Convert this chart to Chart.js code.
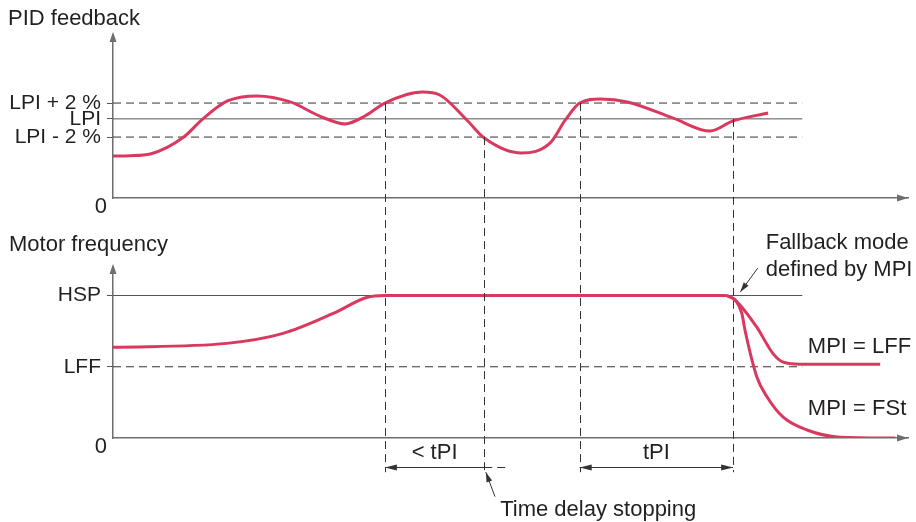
<!DOCTYPE html>
<html>
<head>
<meta charset="utf-8">
<title>PID feedback / Motor frequency</title>
<script src="https://cdn.jsdelivr.net/npm/chart.js@4.4.1/dist/chart.umd.min.js"></script>
<style>
  body { margin: 0; background: #fff; }
  #wrap { position: relative; width: 916px; height: 522px; }
  #wrap canvas { position: absolute; left: 0; top: 0; }
</style>
</head>
<body>
<div id="wrap">
  <canvas id="pidChart" width="916" height="522"></canvas>
  <canvas id="motorChart" width="916" height="522"></canvas>
</div>
<script>
// time axis, arbitrary units (0 = vertical axis, 100 = arrow tip)
const timeMax = 100;
const lineEnd = 86.7;

// PID feedback panel
const pidTicks = [38.5, 50, 60];
const pidTickLabels = ["LPI - 2 %", "LPI", "LPI + 2 %"];
const pidTime  = [0, 2.1, 4.7, 8.9, 11.3, 14.4, 18.1, 22.3, 26, 29.2, 31.7, 34.2, 38.9, 41.1, 44.5, 46.7, 51.4, 55, 56.9, 58.7, 61.3, 64.7, 70.4, 75.1, 78, 82.4];
const pidValue = [26.5, 26.7, 27.8, 38.5, 50, 61.3, 64.5, 60.7, 51.8, 46.8, 51.8, 60, 67, 65.1, 49.3, 37.9, 28.4, 34.8, 49.3, 60, 62.6, 60.7, 50.6, 42.3, 48.7, 53.7];

// Motor frequency panel
const freqTicks = [25, 50];
const freqTickLabels = ["LFF", "HSP"];
const motorTime  = [0, 14.3, 21.4, 27.7, 31.9, 34.2, 77.2];
const motorValue = [31.8, 33.2, 36.7, 43.7, 49.3, 50, 50];
const lffTime  = [77.2, 78.3, 81, 83, 84.3, 86.4, 96.5];
const lffValue = [50, 48.3, 38.8, 29.7, 26.6, 25.9, 25.9];
const fstTime  = [77.2, 78.3, 79.1, 79.5, 81, 82.3, 84.3, 87.3, 91.4, 98.4];
const fstValue = [50, 48.3, 43.7, 37.8, 21.3, 14.3, 7.3, 2.8, 0.3, 0];

// vertical markers: time, PID level where they start; all end at markTo (frequency units)
const markTime = [34.2, 46.7, 58.7, 78.0];
const markFrom = [60, 38.5, 60, 50];
const markTo = -12;

const RED = "rgb(218,56,94)";
const AXIS = "#6d6e71";
const REF = "#555";
const DASH = "#333";
const TEXT = "#231f20";
const FONT = '22px "Liberation Sans", Arial, sans-serif';

function pts(xs, ys) {
  return xs.map((t, i) => ({ x: t, y: ys[i] }));
}

function curve(xs, ys) {
  return { data: pts(xs, ys), borderColor: RED, borderWidth: 3, pointRadius: 0, cubicInterpolationMode: "monotone", fill: false };
}

function refLine(level, dashed) {
  return { data: [{ x: 0, y: level }, { x: lineEnd, y: level }], borderColor: dashed ? DASH : REF, borderWidth: 1, borderDash: dashed ? [8, 5] : [], pointRadius: 0, fill: false };
}

function scalesFor(ticks, labels, yMin, yMax) {
  return {
    x: {
      type: "linear", min: 0, max: timeMax,
      ticks: { display: false },
      grid: { display: false, drawTicks: false },
      border: { display: true, color: AXIS, width: 1.5 },
      afterFit: s => { s.height = 0; }
    },
    y: {
      type: "linear", min: yMin, max: yMax,
      afterFit: s => { s.width = 113; },
      afterBuildTicks: s => { s.ticks = ticks.map(v => ({ value: v })); },
      ticks: {
        autoSkip: false, padding: 6, color: TEXT,
        font: { family: "'Liberation Sans', Arial, sans-serif", size: 21 },
        callback: v => labels[ticks.indexOf(v)]
      },
      grid: { drawOnChartArea: false, drawTicks: true, tickLength: 6, tickColor: REF, tickWidth: 1 },
      border: { display: true, color: AXIS, width: 1.5 }
    }
  };
}

function arrowHead(ctx, x, y, angle, len, half) {
  ctx.save();
  ctx.translate(x, y);
  ctx.rotate(angle);
  ctx.beginPath();
  ctx.moveTo(0, 0);
  ctx.lineTo(-len, -half);
  ctx.lineTo(-len, half);
  ctx.closePath();
  ctx.fill();
  ctx.restore();
}

function axisArrows(chart) {
  const { ctx, scales: { x, y } } = chart;
  const x0 = x.getPixelForValue(0), y0 = y.getPixelForValue(0);
  ctx.fillStyle = AXIS;
  arrowHead(ctx, x0, chart.chartArea.top - 3, -Math.PI / 2, 10, 3.5);
  arrowHead(ctx, x.getPixelForValue(timeMax), y0, 0, 11, 3.5);
  return { x0, y0 };
}

const pidDecor = {
  id: "pidDecor",
  afterDraw(chart) {
    const ctx = chart.ctx;
    ctx.save();
    const { x0, y0 } = axisArrows(chart);
    ctx.fillStyle = TEXT;
    ctx.font = FONT;
    ctx.textBaseline = "middle";
    ctx.textAlign = "left";
    ctx.fillText("PID feedback", 8, 19);
    ctx.textAlign = "right";
    ctx.fillText("0", x0 - 6, y0 + 9);
    ctx.restore();
  }
};

const pidChart = new Chart(document.getElementById("pidChart"), {
  type: "line",
  data: {
    datasets: [
      curve(pidTime, pidValue),
      refLine(pidTicks[1], false),
      refLine(pidTicks[2], true),
      refLine(pidTicks[0], true)
    ]
  },
  options: {
    responsive: false,
    animation: false,
    events: [],
    layout: { padding: { top: 35, bottom: 522 - 198, left: 0, right: 8 } },
    scales: scalesFor(pidTicks, pidTickLabels, 0, 103),
    plugins: { legend: { display: false }, tooltip: { enabled: false } }
  },
  plugins: [pidDecor]
});

const motorDecor = {
  id: "motorDecor",
  afterDraw(chart) {
    const ctx = chart.ctx;
    const { x, y } = chart.scales;
    const py = pidChart.scales.y;
    ctx.save();
    const { x0, y0 } = axisArrows(chart);

    // vertical dashed markers through both panels
    ctx.strokeStyle = DASH;
    ctx.lineWidth = 1;
    ctx.setLineDash([8, 5]);
    markTime.forEach((t, i) => {
      const px = Math.round(x.getPixelForValue(t)) + 0.5;
      ctx.beginPath();
      ctx.moveTo(px, py.getPixelForValue(markFrom[i]));
      ctx.lineTo(px, y.getPixelForValue(markTo));
      ctx.stroke();
    });

    // dimension lines
    const by = Math.round(y.getPixelForValue(-10)) + 0.5;
    ctx.beginPath();
    ctx.moveTo(x.getPixelForValue(markTime[1]), by);
    ctx.lineTo(x.getPixelForValue(49.9), by);
    ctx.stroke();
    ctx.setLineDash([]);
    ctx.beginPath();
    ctx.moveTo(x.getPixelForValue(markTime[0]), by);
    ctx.lineTo(x.getPixelForValue(markTime[1]), by);
    ctx.moveTo(x.getPixelForValue(markTime[2]), by);
    ctx.lineTo(x.getPixelForValue(markTime[3]), by);
    ctx.stroke();
    ctx.fillStyle = DASH;
    arrowHead(ctx, x.getPixelForValue(markTime[0]), by, Math.PI, 12, 3);
    arrowHead(ctx, x.getPixelForValue(markTime[2]), by, Math.PI, 12, 3);
    arrowHead(ctx, x.getPixelForValue(markTime[3]), by, 0, 12, 3);

    // pointer arrows
    function pointer(t1, v1, t2, v2) {
      const ax = x.getPixelForValue(t1), ay = y.getPixelForValue(v1);
      const bx = x.getPixelForValue(t2), by2 = y.getPixelForValue(v2);
      ctx.beginPath();
      ctx.moveTo(ax, ay);
      ctx.lineTo(bx, by2);
      ctx.stroke();
      arrowHead(ctx, bx, by2, Math.atan2(by2 - ay, bx - ax), 10, 3);
    }
    pointer(48.05, -20.6, 46.9, -12);
    pointer(81.1, 59.6, 78.9, 51.2);

    // labels
    ctx.fillStyle = TEXT;
    ctx.font = FONT;
    ctx.textBaseline = "middle";
    ctx.textAlign = "left";
    ctx.fillText("Motor frequency", 9, 245);
    ctx.fillText("Fallback mode", x.getPixelForValue(82.1), y.getPixelForValue(68.4));
    ctx.fillText("defined by MPI", x.getPixelForValue(82.1), y.getPixelForValue(58.9));
    ctx.fillText("MPI = LFF", x.getPixelForValue(87.4), y.getPixelForValue(31.9));
    ctx.fillText("MPI = FSt", x.getPixelForValue(87.4), y.getPixelForValue(10.2));
    ctx.fillText("Time delay stopping", x.getPixelForValue(48.7), y.getPixelForValue(-25.3));
    ctx.textAlign = "center";
    ctx.fillText("< tPI", (x.getPixelForValue(markTime[0]) + x.getPixelForValue(markTime[1])) / 2, y.getPixelForValue(-5.3));
    ctx.fillText("tPI", (x.getPixelForValue(markTime[2]) + x.getPixelForValue(markTime[3])) / 2, y.getPixelForValue(-5.3));
    ctx.textAlign = "right";
    ctx.fillText("0", x0 - 6, y0 + 9);
    ctx.restore();
  }
};

new Chart(document.getElementById("motorChart"), {
  type: "line",
  data: {
    datasets: [
      curve(motorTime, motorValue),
      curve(lffTime, lffValue),
      curve(fstTime, fstValue),
      refLine(freqTicks[1], false),
      refLine(freqTicks[0], true)
    ]
  },
  options: {
    responsive: false,
    animation: false,
    events: [],
    layout: { padding: { top: 267, bottom: 522 - 438, left: 0, right: 8 } },
    scales: scalesFor(freqTicks, freqTickLabels, 0, 60),
    plugins: { legend: { display: false }, tooltip: { enabled: false } }
  },
  plugins: [motorDecor]
});
</script>
</body>
</html>
